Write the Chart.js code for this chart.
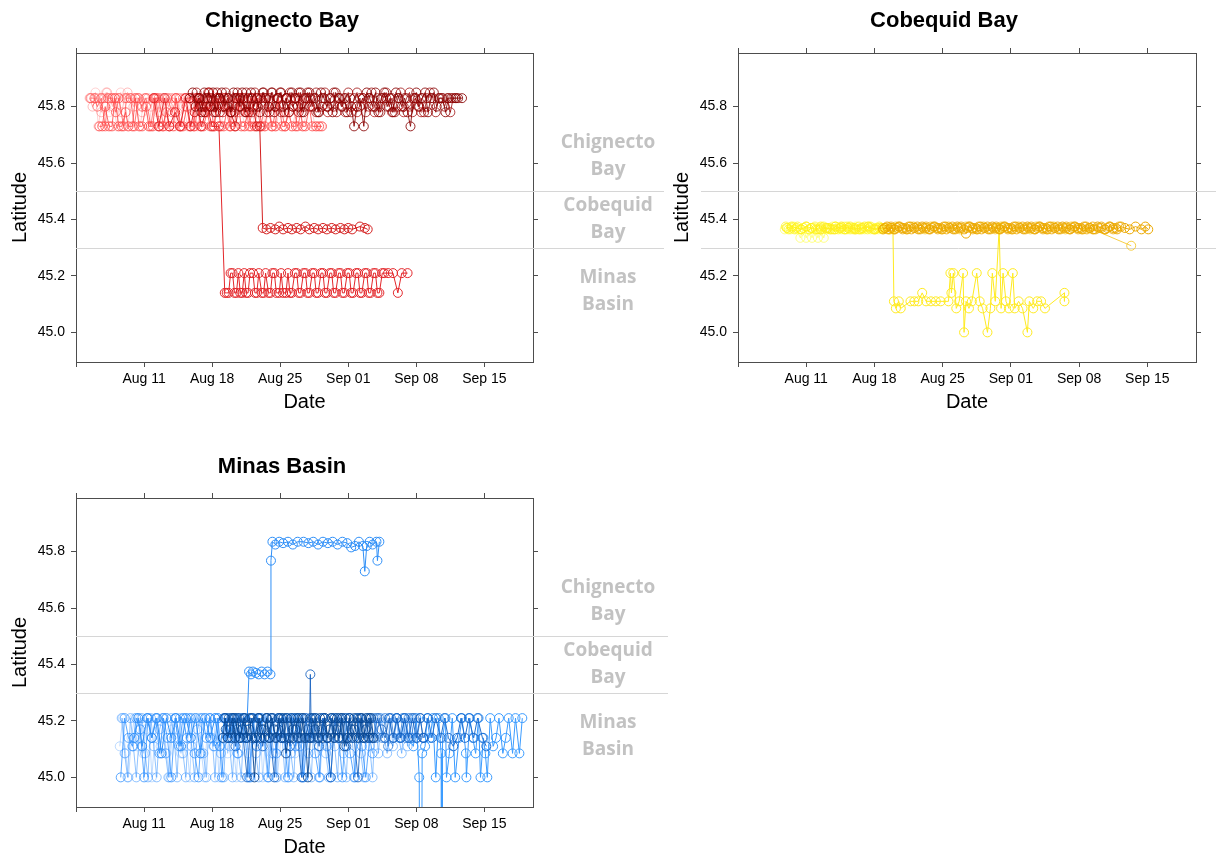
<!DOCTYPE html>
<html>
<head>
<meta charset="utf-8">
<title>Tag detections by latitude</title>
<script src="https://cdn.jsdelivr.net/npm/chart.js@4.4.1/dist/chart.umd.min.js"></script>
<style>
  html, body { margin: 0; padding: 0; background: #fff; width: 1216px; height: 860px; overflow: hidden; }
  canvas { position: absolute; }
  #chigPanel { left: 0; top: 0; }
  #cobePanel { left: 668px; top: 0; }
  #minaPanel { left: 0; top: 445px; }
</style>
</head>
<body>
<canvas id="chigPanel" width="668" height="418"></canvas>
<canvas id="cobePanel" width="548" height="418"></canvas>
<canvas id="minaPanel" width="668" height="418"></canvas>
<script>
// x values are days since Aug 4; y values are receiver latitudes (degrees N)
const xTickDays = [0, 7, 14, 21, 28, 35, 42];
const xTickLabels = ['', 'Aug 11', 'Aug 18', 'Aug 25', 'Sep 01', 'Sep 08', 'Sep 15'];
const yTickValues = [45.0, 45.2, 45.4, 45.6, 45.8];
const regionBreaks = [45.3, 45.5];
const regionNames = [['Chignecto', 'Bay'], ['Cobequid', 'Bay'], ['Minas', 'Basin']];
const regionLabelLat = [45.625, 45.40, 45.148];

// ---- Chignecto Bay release group ----
const chigTagA = [[1.6,45.83],[2.0,45.85],[2.3,45.73],[2.7,45.83],[3.1,45.85],[3.4,45.78],[3.8,45.83],[4.2,45.73],[4.6,45.85],[5.0,45.83],[5.3,45.73],[5.8,45.83],[6.2,45.80],[6.6,45.73],[7.0,45.83],[7.5,45.73],[7.9,45.83],[8.4,45.78],[8.8,45.83],[9.3,45.73],[9.7,45.83],[10.2,45.73],[10.6,45.83],[11.1,45.80],[11.5,45.73],[12.0,45.83],[12.5,45.73],[13.0,45.83],[13.4,45.78],[13.9,45.73],[14.4,45.83],[14.9,45.73],[15.4,45.83],[15.9,45.73],[16.4,45.83],[16.9,45.80],[17.4,45.73],[17.9,45.83],[18.4,45.73],[18.9,45.83],[19.5,45.73],[20.0,45.83],[20.6,45.73],[21.1,45.83],[21.7,45.78],[22.3,45.73],[22.8,45.83],[23.4,45.73],[24.0,45.83],[24.6,45.73],[25.2,45.73]];
const chigTagB = [[1.5,45.83],[1.9,45.83],[2.2,45.80],[2.6,45.83],[3.0,45.73],[3.3,45.83],[3.7,45.83],[4.1,45.78],[4.4,45.83],[4.9,45.73],[5.2,45.83],[5.6,45.83],[6.0,45.73],[6.4,45.83],[6.8,45.80],[7.2,45.83],[7.7,45.73],[8.1,45.83],[8.5,45.83],[9.0,45.73],[9.4,45.83],[9.9,45.78],[10.3,45.83],[10.8,45.73],[11.2,45.83],[11.7,45.83],[12.2,45.73],[12.7,45.83],[13.2,45.80],[13.7,45.83],[14.2,45.73],[14.7,45.83],[15.2,45.83],[15.8,45.73],[16.3,45.83],[16.8,45.78],[17.3,45.83],[17.8,45.73],[18.4,45.83],[19.0,45.73],[19.6,45.83],[20.2,45.73],[20.8,45.83],[21.5,45.73],[22.1,45.83],[22.8,45.73],[23.5,45.83]];
const chigTagG = [[2.4,45.73],[2.7,45.73],[3.0,45.80],[3.4,45.73],[3.7,45.73],[4.0,45.83],[4.4,45.73],[4.7,45.73],[5.1,45.78],[5.4,45.73],[5.8,45.73],[6.1,45.83],[6.5,45.73],[6.8,45.73],[7.2,45.80],[7.5,45.73],[7.9,45.73],[8.2,45.83],[8.6,45.73],[8.9,45.73],[9.3,45.78],[9.6,45.73],[10.0,45.73],[10.3,45.83],[10.7,45.73],[11.0,45.73],[11.4,45.80],[11.7,45.73],[12.1,45.73],[12.4,45.83],[12.8,45.73],[13.1,45.73],[13.5,45.78],[13.8,45.73],[14.2,45.73],[14.5,45.83],[14.9,45.73],[15.2,45.73],[15.6,45.80],[15.9,45.73],[16.3,45.73],[16.6,45.83],[17.0,45.73],[17.3,45.73],[17.7,45.78],[18.0,45.73],[18.4,45.73],[18.7,45.83],[19.1,45.73],[19.4,45.73],[19.8,45.80],[20.1,45.73],[20.5,45.73],[20.8,45.83],[21.2,45.73],[21.5,45.73],[21.9,45.78],[22.2,45.73],[22.6,45.73],[22.9,45.83],[23.3,45.73],[23.6,45.73],[24.0,45.80],[24.3,45.73],[24.7,45.73],[25.0,45.73],[25.3,45.73]];
const chigTagH = [[1.4,45.83],[1.7,45.80],[2.0,45.83],[2.3,45.83],[2.6,45.78],[2.9,45.83],[3.2,45.85],[3.5,45.83],[3.8,45.80],[4.1,45.83],[4.4,45.83],[4.7,45.78],[5.0,45.83],[5.3,45.85],[5.6,45.83],[5.9,45.80],[6.2,45.83],[6.5,45.83],[6.8,45.78],[7.1,45.83],[7.4,45.83],[7.7,45.80],[8.0,45.83],[8.3,45.83],[8.6,45.78],[8.9,45.83],[9.2,45.83],[9.5,45.80],[9.8,45.83],[10.1,45.83],[10.4,45.78],[10.7,45.83],[11.0,45.83],[11.3,45.80],[11.6,45.83],[11.9,45.83],[12.2,45.78],[12.5,45.83]];
const chigTagC = [[8.0,45.83],[8.5,45.73],[9.1,45.83],[9.6,45.73],[10.2,45.78],[10.7,45.73],[11.3,45.83],[11.8,45.73],[12.4,45.83],[12.9,45.73],[13.5,45.80],[14.0,45.73],[14.7,45.73],[15.3,45.14],[15.5,45.14],[15.7,45.14],[15.9,45.21],[16.1,45.21],[16.3,45.14],[16.5,45.14],[16.7,45.21],[16.9,45.14],[17.1,45.14],[17.3,45.21],[17.5,45.14],[17.7,45.14],[17.9,45.21],[18.2,45.21],[18.4,45.14],[18.6,45.14],[18.8,45.21],[19.1,45.14],[19.3,45.14],[19.5,45.21],[19.8,45.14],[20.0,45.14],[20.2,45.21],[20.4,45.21],[20.6,45.14],[20.9,45.14],[21.1,45.21],[21.3,45.14],[21.6,45.14],[21.8,45.21],[22.0,45.14],[22.2,45.14],[22.5,45.21],[22.7,45.21],[22.9,45.14],[23.1,45.14],[23.4,45.21],[23.6,45.21],[23.8,45.14],[24.0,45.14],[24.3,45.21],[24.5,45.21],[24.7,45.14],[24.9,45.14],[25.2,45.21],[25.4,45.21],[25.6,45.14],[25.8,45.14],[26.1,45.21],[26.3,45.21],[26.5,45.14],[26.7,45.14],[27.0,45.21],[27.2,45.21],[27.4,45.14],[27.6,45.14],[27.9,45.21],[28.1,45.21],[28.3,45.14],[28.5,45.14],[28.8,45.21],[29.0,45.21],[29.2,45.14],[29.4,45.14],[29.7,45.21],[29.9,45.21],[30.1,45.14],[30.3,45.14],[30.6,45.21],[30.8,45.21],[31.0,45.14],[31.2,45.14],[31.5,45.21],[31.7,45.21],[32.1,45.21],[32.6,45.21],[33.1,45.14],[33.5,45.21],[34.1,45.21]];
const chigTagD = [[12.2,45.78],[12.7,45.83],[13.2,45.78],[13.7,45.85],[14.2,45.80],[14.8,45.78],[15.3,45.83],[15.9,45.78],[16.4,45.73],[16.9,45.83],[17.5,45.78],[18.0,45.83],[18.6,45.73],[18.9,45.73],[19.2,45.37],[19.6,45.365],[20.0,45.37],[20.5,45.365],[20.9,45.375],[21.3,45.365],[21.8,45.37],[22.2,45.365],[22.7,45.37],[23.1,45.365],[23.6,45.375],[24.0,45.365],[24.5,45.37],[24.9,45.365],[25.4,45.37],[25.8,45.365],[26.3,45.37],[26.7,45.365],[27.2,45.37],[27.6,45.365],[28.0,45.37],[28.4,45.365],[29.2,45.375],[29.7,45.37],[30.0,45.365]];
const chigTagE = [[12.8,45.80],[13.3,45.78],[13.9,45.80],[14.5,45.83],[15.1,45.78],[15.7,45.80],[16.3,45.78],[16.9,45.83],[17.5,45.80],[18.1,45.78],[18.7,45.80],[19.3,45.83],[19.9,45.78],[20.5,45.80],[21.1,45.78],[21.7,45.83],[22.3,45.80],[22.9,45.78],[23.5,45.80],[24.1,45.83],[24.7,45.78],[25.3,45.80],[25.9,45.78],[26.5,45.80],[27.1,45.83],[27.7,45.78],[28.3,45.80],[28.9,45.78],[29.5,45.83],[30.1,45.80],[30.7,45.78],[31.3,45.80],[31.9,45.83],[32.5,45.78],[33.1,45.80],[33.7,45.78],[34.3,45.80],[34.9,45.83],[35.5,45.78],[36.1,45.80]];
const chigTagF = [[11.7,45.83],[12.0,45.85],[12.3,45.80],[12.6,45.83],[12.9,45.78],[13.2,45.85],[13.5,45.83],[13.8,45.80],[14.1,45.85],[14.4,45.78],[14.7,45.83],[15.0,45.85],[15.3,45.80],[15.6,45.83],[15.9,45.78],[16.2,45.85],[16.5,45.83],[16.8,45.80],[17.1,45.85],[17.4,45.78],[17.7,45.83],[18.0,45.85],[18.3,45.80],[18.6,45.83],[18.9,45.78],[19.2,45.85],[19.5,45.83],[19.8,45.80],[20.1,45.85],[20.4,45.78],[20.7,45.83],[21.0,45.85],[21.3,45.80],[21.6,45.83],[21.9,45.78],[22.2,45.85],[22.5,45.83],[22.8,45.80],[23.1,45.85],[23.4,45.78],[23.7,45.83],[24.0,45.85],[24.3,45.80],[24.6,45.83],[24.9,45.78],[25.2,45.85],[25.5,45.83],[25.8,45.80],[26.1,45.83],[26.4,45.78],[26.7,45.85],[27.0,45.83],[27.3,45.80],[27.6,45.83],[27.9,45.78],[28.2,45.83],[28.6,45.73],[28.9,45.80],[29.2,45.83],[29.6,45.73],[29.9,45.85],[30.2,45.83],[30.5,45.80],[30.8,45.85],[31.1,45.78],[31.4,45.83],[31.7,45.85],[32.0,45.80],[32.3,45.83],[32.6,45.78],[32.9,45.85],[33.2,45.83],[33.5,45.80],[33.8,45.83],[34.1,45.78],[34.4,45.73],[34.7,45.83],[35.0,45.85],[35.3,45.80],[35.6,45.83],[35.9,45.85],[36.2,45.78],[36.5,45.83],[36.8,45.85],[37.1,45.80],[37.4,45.83],[37.7,45.83],[38.0,45.78],[38.3,45.83],[38.6,45.83],[39.0,45.83],[39.3,45.83],[39.7,45.83]];
const chigTagI = [[12.4,45.85],[12.7,45.83],[13.0,45.80],[13.3,45.83],[13.6,45.85],[13.9,45.83],[14.2,45.78],[14.5,45.85],[14.8,45.83],[15.1,45.80],[15.4,45.85],[15.7,45.83],[16.0,45.78],[16.3,45.83],[16.6,45.85],[16.9,45.80],[17.2,45.83],[17.5,45.85],[17.8,45.78],[18.1,45.83],[18.4,45.85],[18.7,45.80],[19.0,45.83],[19.3,45.85],[19.6,45.78],[19.9,45.83],[20.2,45.85],[20.5,45.80],[20.8,45.83],[21.1,45.85],[21.4,45.78],[21.7,45.83],[22.0,45.85],[22.3,45.80],[22.6,45.83],[22.9,45.85],[23.2,45.78],[23.5,45.83],[23.8,45.85],[24.1,45.80],[24.4,45.83],[24.7,45.85],[25.0,45.78],[25.3,45.83],[25.6,45.85],[25.9,45.80],[26.2,45.83],[26.5,45.85],[26.8,45.78],[27.1,45.83],[27.4,45.80],[27.7,45.83],[28.0,45.85],[28.3,45.78],[28.6,45.83],[28.9,45.85],[29.2,45.80],[29.5,45.83],[29.8,45.78],[30.1,45.83],[30.4,45.85],[30.7,45.80],[31.0,45.83],[31.3,45.78],[31.6,45.83],[31.9,45.85],[32.2,45.80],[32.5,45.83],[32.8,45.78],[33.1,45.83],[33.4,45.85],[33.7,45.80],[34.0,45.83],[34.3,45.85],[34.6,45.78],[34.9,45.83],[35.2,45.80],[35.5,45.83],[35.8,45.78],[36.1,45.83],[36.4,45.85],[36.7,45.83],[37.0,45.78],[37.3,45.83],[37.6,45.83],[37.9,45.80],[38.2,45.83],[38.5,45.78],[38.8,45.83],[39.1,45.83]];

// ---- Cobequid Bay release group ----
const cobeTagA = [[4.8,45.365],[5.1,45.37],[5.4,45.365],[5.7,45.375],[6.0,45.365],[6.4,45.335],[6.7,45.37],[7.0,45.335],[7.3,45.365],[7.6,45.335],[7.9,45.37],[8.2,45.335],[8.5,45.365],[8.8,45.335],[9.1,45.37],[9.4,45.365],[9.7,45.375],[10.0,45.365],[10.3,45.37],[10.6,45.365],[10.9,45.375],[11.2,45.365],[11.5,45.37],[11.8,45.365],[12.1,45.375],[12.4,45.365],[12.7,45.37],[13.0,45.365],[13.3,45.375],[13.6,45.365],[14.0,45.37],[14.4,45.365],[14.8,45.37]];
const cobeTagB = [[5.0,45.37],[5.5,45.375],[6.0,45.37],[6.5,45.365],[7.0,45.375],[7.5,45.37],[8.0,45.365],[8.5,45.375],[9.0,45.37],[9.5,45.365],[10.0,45.375],[10.5,45.37],[11.0,45.365],[11.5,45.375],[12.0,45.37],[12.5,45.365],[13.0,45.375],[13.5,45.37],[14.0,45.365],[14.5,45.37]];
const cobeTagG = [[4.9,45.375],[5.2,45.365],[5.5,45.37],[5.8,45.365],[6.1,45.375],[6.4,45.365],[6.7,45.37],[7.0,45.375],[7.3,45.365],[7.6,45.37],[7.9,45.375],[8.2,45.365],[8.5,45.37],[8.8,45.375],[9.1,45.365],[9.4,45.37],[9.7,45.365],[10.0,45.375],[10.3,45.365],[10.6,45.37],[10.9,45.365],[11.2,45.375],[11.5,45.365],[11.8,45.37],[12.1,45.365],[12.4,45.375],[12.7,45.365],[13.0,45.37],[13.3,45.365],[13.6,45.375],[13.9,45.365],[14.2,45.37],[14.5,45.375],[14.8,45.365],[15.1,45.37]];
const cobeTagC = [[8.5,45.365],[9.2,45.37],[9.9,45.365],[10.6,45.375],[11.3,45.37],[12.0,45.365],[12.7,45.37],[13.4,45.375],[14.1,45.365],[14.8,45.37],[15.5,45.365],[15.9,45.37],[16.0,45.11],[16.2,45.085],[16.5,45.11],[16.7,45.085],[17.7,45.11],[18.1,45.11],[18.5,45.11],[18.9,45.14],[19.3,45.11],[19.8,45.11],[20.3,45.11],[20.8,45.11],[21.6,45.11],[21.8,45.21],[21.9,45.14],[22.1,45.21],[22.4,45.085],[22.7,45.11],[23.1,45.21],[23.2,45.0],[23.4,45.11],[23.7,45.085],[24.0,45.11],[24.5,45.21],[24.8,45.11],[25.1,45.085],[25.6,45.0],[25.9,45.085],[26.1,45.21],[26.4,45.11],[26.8,45.37],[27.0,45.085],[27.2,45.21],[27.5,45.11],[27.8,45.085],[28.2,45.21],[28.4,45.085],[28.8,45.11],[29.2,45.085],[29.7,45.0],[29.9,45.11],[30.3,45.085],[30.7,45.11],[31.1,45.11],[31.5,45.085],[33.5,45.14],[33.5,45.11]];
const cobeTagD = [[15.0,45.37],[15.6,45.365],[16.2,45.375],[16.8,45.37],[17.4,45.365],[18.0,45.375],[18.6,45.37],[19.2,45.365],[19.8,45.375],[20.4,45.37],[21.0,45.365],[21.6,45.375],[22.2,45.37],[22.8,45.365],[23.4,45.375],[24.0,45.37],[24.6,45.365],[25.2,45.375],[25.8,45.37],[26.4,45.365],[27.0,45.375],[27.6,45.37],[28.2,45.365],[28.8,45.375],[29.4,45.37],[30.0,45.365],[30.6,45.375],[31.2,45.37],[31.8,45.365],[32.4,45.375],[33.0,45.37],[33.6,45.365],[34.2,45.375],[34.8,45.37],[35.4,45.365],[36.0,45.37],[36.4,45.365],[40.35,45.307]];
const cobeTagE = [[14.9,45.365],[15.3,45.375],[15.7,45.37],[16.1,45.365],[16.5,45.375],[16.9,45.37],[17.3,45.365],[17.7,45.375],[18.1,45.37],[18.5,45.365],[18.9,45.375],[19.3,45.37],[19.7,45.365],[20.1,45.375],[20.5,45.37],[20.9,45.365],[21.3,45.375],[21.7,45.37],[22.1,45.365],[22.5,45.375],[22.9,45.37],[23.4,45.35],[23.7,45.375],[24.1,45.37],[24.5,45.365],[24.9,45.375],[25.3,45.37],[25.7,45.365],[26.1,45.375],[26.5,45.37],[26.9,45.365],[27.3,45.375],[27.7,45.37],[28.1,45.365],[28.5,45.375],[28.9,45.37],[29.3,45.365],[29.7,45.375],[30.1,45.37],[30.5,45.365],[30.9,45.375],[31.3,45.37],[31.7,45.365],[32.1,45.375],[32.5,45.37],[32.9,45.365],[33.3,45.375],[33.7,45.37],[34.1,45.365],[34.5,45.375],[34.9,45.37],[35.3,45.365],[35.7,45.375],[36.1,45.37],[36.5,45.365],[36.9,45.375],[37.3,45.37],[37.7,45.365],[38.1,45.375],[38.5,45.37],[38.9,45.365],[39.3,45.375],[39.7,45.37],[40.2,45.365],[40.8,45.375],[41.4,45.365],[41.8,45.375],[42.1,45.365]];
const cobeTagF = [[15.1,45.37],[15.4,45.365],[15.7,45.375],[16.0,45.365],[16.3,45.37],[16.6,45.375],[16.9,45.365],[17.2,45.37],[17.5,45.375],[17.8,45.365],[18.1,45.37],[18.4,45.375],[18.7,45.365],[19.0,45.37],[19.3,45.375],[19.6,45.365],[19.9,45.37],[20.2,45.375],[20.5,45.365],[20.8,45.37],[21.1,45.375],[21.4,45.365],[21.7,45.37],[22.0,45.375],[22.3,45.365],[22.6,45.37],[22.9,45.375],[23.2,45.365],[23.5,45.37],[23.8,45.375],[24.1,45.365],[24.4,45.37],[24.7,45.375],[25.0,45.365],[25.3,45.37],[25.6,45.375],[25.9,45.365],[26.2,45.37],[26.5,45.375],[26.8,45.365],[27.1,45.37],[27.4,45.375],[27.7,45.365],[28.0,45.37],[28.3,45.375],[28.6,45.365],[28.9,45.37],[29.2,45.375],[29.5,45.365],[29.8,45.37],[30.1,45.375],[30.4,45.365],[30.7,45.37],[31.0,45.375],[31.3,45.365],[31.6,45.37],[31.9,45.375],[32.2,45.365],[32.5,45.37],[32.8,45.375],[33.1,45.365],[33.4,45.37],[33.7,45.375],[34.0,45.365],[34.3,45.37],[34.6,45.375],[34.9,45.365],[35.2,45.37],[35.5,45.375],[35.8,45.365],[36.1,45.37],[36.4,45.375],[36.7,45.365],[37.0,45.37],[37.3,45.375],[37.6,45.365],[37.9,45.37],[38.2,45.375],[38.5,45.365],[38.8,45.37],[39.1,45.375]];

// ---- Minas Basin release group ----
const minaTagA = [[4.5,45.11],[4.8,45.21],[5.1,45.085],[5.4,45.0],[5.7,45.14],[6.0,45.21],[6.3,45.11],[6.6,45.21],[6.9,45.085],[7.2,45.17],[7.5,45.21],[7.8,45.0],[8.1,45.14],[8.4,45.21],[8.7,45.11],[9.0,45.21],[9.3,45.085],[9.6,45.0],[9.9,45.17],[10.2,45.21],[10.5,45.14],[10.8,45.085],[11.1,45.21],[11.4,45.11],[11.7,45.0],[12.0,45.21],[12.3,45.14],[12.6,45.21],[12.9,45.085],[13.2,45.0],[13.5,45.17],[13.8,45.21],[14.1,45.11],[14.4,45.21],[14.7,45.0],[15.0,45.14],[15.3,45.21],[15.6,45.085],[15.9,45.21],[16.2,45.11],[16.5,45.0],[16.8,45.21],[17.1,45.14],[17.4,45.21],[17.7,45.085],[18.0,45.0],[18.3,45.21],[18.6,45.11],[18.9,45.21],[19.2,45.0],[19.5,45.14],[19.8,45.21],[20.1,45.085],[20.4,45.21],[20.7,45.0],[21.0,45.11],[21.3,45.21],[21.6,45.14],[21.9,45.0],[22.2,45.21],[22.5,45.085],[22.8,45.21],[23.1,45.11],[23.4,45.0],[23.7,45.21],[24.0,45.14]];
const minaTagB = [[4.6,45.0],[5.0,45.21],[5.4,45.14],[5.8,45.11],[6.2,45.21],[6.6,45.17],[7.0,45.0],[7.4,45.21],[7.8,45.14],[8.2,45.21],[8.6,45.085],[9.0,45.21],[9.4,45.14],[9.8,45.0],[10.2,45.21],[10.6,45.11],[11.0,45.21],[11.4,45.14],[11.8,45.21],[12.2,45.085],[12.6,45.0],[13.0,45.21],[13.4,45.14],[13.8,45.21],[14.2,45.11],[14.6,45.21],[15.0,45.0],[15.4,45.21],[15.8,45.14],[16.2,45.21],[16.6,45.085],[17.0,45.21],[17.4,45.14],[17.8,45.0],[18.2,45.21],[18.6,45.11],[19.0,45.21],[19.4,45.14],[19.8,45.0],[20.2,45.21],[20.6,45.085],[21.0,45.21],[21.4,45.14],[21.8,45.0],[22.2,45.21],[22.6,45.11],[23.0,45.21],[23.4,45.0],[23.8,45.14],[24.2,45.21],[24.6,45.085],[25.0,45.0],[25.4,45.21],[25.8,45.11],[26.2,45.0],[26.6,45.21],[27.0,45.14],[27.4,45.0],[27.8,45.21],[28.2,45.085],[28.6,45.0],[29.0,45.21],[29.4,45.11],[29.8,45.0],[30.2,45.14],[30.5,45.085]];
const minaTagH = [[4.7,45.21],[5.0,45.085],[5.3,45.0],[5.6,45.21],[5.9,45.11],[6.2,45.0],[6.5,45.14],[6.8,45.21],[7.1,45.085],[7.4,45.0],[7.7,45.21],[8.0,45.11],[8.3,45.0],[8.6,45.17],[8.9,45.21],[9.2,45.085],[9.5,45.0],[9.8,45.21],[10.1,45.14],[10.4,45.0],[10.7,45.21],[11.0,45.085],[11.3,45.0],[11.6,45.21],[11.9,45.11],[12.2,45.0],[12.5,45.17],[12.8,45.21],[13.1,45.085],[13.4,45.0],[13.7,45.21],[14.0,45.14],[14.3,45.0],[14.6,45.21],[14.9,45.085],[15.2,45.0],[15.5,45.21],[15.8,45.11],[16.1,45.0],[16.4,45.21],[16.7,45.085],[17.0,45.0],[17.3,45.21],[17.6,45.14],[17.9,45.0],[18.2,45.21],[18.5,45.085],[18.8,45.0],[19.1,45.21],[19.4,45.11],[19.7,45.0],[20.0,45.21],[20.3,45.085],[20.6,45.0],[20.9,45.21],[21.2,45.14],[21.5,45.0],[21.8,45.21],[22.1,45.085],[22.4,45.0],[22.7,45.21],[23.0,45.11],[23.3,45.0],[23.6,45.21],[23.9,45.085],[24.2,45.0],[24.5,45.21],[24.8,45.14],[25.1,45.0],[25.4,45.21],[25.7,45.085],[26.0,45.0],[26.3,45.21],[26.6,45.11],[26.9,45.0],[27.2,45.21],[27.5,45.085],[27.8,45.0],[28.1,45.21],[28.4,45.14],[28.7,45.0],[29.0,45.21],[29.3,45.085],[29.6,45.0],[29.9,45.21],[30.2,45.11],[30.5,45.0],[30.8,45.21],[31.1,45.085],[31.4,45.21],[31.7,45.14],[32.0,45.085],[32.3,45.21],[32.6,45.11],[32.9,45.21],[33.2,45.14],[33.5,45.085],[33.8,45.21],[34.1,45.11],[34.4,45.21],[34.7,45.14]];
const minaTagC = [[6.0,45.14],[6.4,45.21],[6.8,45.11],[7.3,45.21],[7.8,45.14],[8.3,45.21],[8.8,45.085],[9.3,45.21],[9.8,45.14],[10.3,45.21],[10.8,45.11],[11.3,45.21],[11.8,45.14],[12.3,45.21],[12.8,45.085],[13.3,45.21],[13.8,45.14],[14.3,45.21],[14.8,45.11],[15.3,45.21],[15.8,45.14],[16.3,45.21],[16.8,45.14],[17.3,45.21],[17.6,45.20],[17.8,45.375],[18.0,45.365],[18.2,45.375],[18.5,45.37],[18.8,45.365],[19.1,45.375],[19.4,45.365],[19.7,45.375],[20.0,45.365],[20.05,45.768],[20.2,45.835],[20.5,45.825],[20.9,45.835],[21.3,45.83],[21.8,45.835],[22.3,45.825],[22.8,45.835],[23.4,45.835],[23.9,45.83],[24.4,45.835],[24.9,45.825],[25.4,45.835],[25.9,45.83],[26.4,45.835],[26.9,45.825],[27.4,45.835],[27.9,45.83],[28.3,45.815],[28.7,45.82],[29.1,45.835],[29.5,45.82],[29.7,45.73],[29.9,45.82],[30.2,45.835],[30.5,45.825],[30.9,45.835],[31.0,45.768],[31.2,45.835]];
const minaTagD = [[15.1,45.14],[15.35,45.21],[15.6,45.14],[15.85,45.17],[16.1,45.21],[16.35,45.14],[16.6,45.21],[16.85,45.14],[17.1,45.17],[17.35,45.21],[17.6,45.14],[17.85,45.21],[18.1,45.14],[18.35,45.0],[18.6,45.14],[18.85,45.21],[19.1,45.17],[19.35,45.14],[19.6,45.21],[19.85,45.14],[20.1,45.21],[20.35,45.17],[20.6,45.14],[20.85,45.21],[21.1,45.14],[21.35,45.21],[21.6,45.085],[21.85,45.14],[22.1,45.21],[22.35,45.14],[22.6,45.17],[22.85,45.21],[23.1,45.14],[23.35,45.21],[23.6,45.14],[23.85,45.0],[24.1,45.14],[24.35,45.21],[24.6,45.17],[24.85,45.14],[25.1,45.21],[25.35,45.14],[25.6,45.21],[25.85,45.14],[26.1,45.17],[26.35,45.21],[26.6,45.14],[26.85,45.21],[27.1,45.14],[27.35,45.21],[27.6,45.11],[27.85,45.14],[28.1,45.21],[28.35,45.14],[28.6,45.17],[28.85,45.21],[29.1,45.14],[29.35,45.21],[29.6,45.14],[29.85,45.21],[30.1,45.14],[30.35,45.21],[30.6,45.14]];
const minaTagI = [[15.4,45.17],[15.7,45.21],[16.0,45.14],[16.3,45.21],[16.6,45.17],[16.9,45.14],[17.2,45.21],[17.5,45.14],[17.8,45.17],[18.1,45.21],[18.4,45.14],[18.7,45.21],[19.0,45.14],[19.3,45.17],[19.6,45.21],[19.9,45.14],[20.2,45.21],[20.5,45.14],[20.8,45.17],[21.1,45.21],[21.4,45.14],[21.7,45.21],[22.0,45.14],[22.3,45.17],[22.6,45.21],[22.9,45.14],[23.2,45.21],[23.5,45.14],[23.8,45.17],[24.1,45.21],[24.4,45.14],[24.7,45.21],[25.0,45.14],[25.3,45.17],[25.6,45.21],[25.9,45.14],[26.2,45.21],[26.5,45.14],[26.8,45.17],[27.1,45.21],[27.4,45.14],[27.7,45.21],[28.0,45.14],[28.3,45.17],[28.6,45.21],[28.9,45.14],[29.2,45.21],[29.5,45.14],[29.8,45.17],[30.1,45.21],[30.4,45.14]];
const minaTagE = [[15.2,45.21],[15.6,45.14],[16.0,45.21],[16.4,45.11],[16.8,45.21],[17.2,45.14],[17.6,45.0],[18.0,45.21],[18.4,45.14],[18.8,45.21],[19.2,45.11],[19.6,45.21],[20.0,45.14],[20.4,45.0],[20.8,45.21],[21.2,45.14],[21.6,45.21],[22.0,45.11],[22.4,45.21],[22.8,45.14],[23.2,45.0],[23.6,45.21],[24.0,45.14],[24.1,45.365],[24.2,45.14],[24.6,45.21],[25.0,45.11],[25.4,45.21],[25.8,45.14],[26.2,45.0],[26.6,45.21],[27.0,45.14],[27.4,45.21],[27.8,45.11],[28.2,45.21],[28.6,45.14],[29.0,45.0],[29.4,45.21],[29.8,45.14],[30.2,45.21],[30.6,45.14],[31.0,45.21],[31.4,45.17],[31.8,45.14],[32.2,45.21],[32.6,45.14],[33.0,45.21],[33.4,45.14],[33.8,45.21],[34.2,45.14],[34.6,45.21],[35.0,45.14],[35.4,45.21],[35.7,45.14]];
const minaTagJ = [[30.6,45.21],[30.9,45.14],[31.2,45.21],[31.5,45.14],[31.8,45.21],[32.1,45.11],[32.4,45.21],[32.7,45.14],[33.0,45.21],[33.3,45.14],[33.6,45.21],[33.9,45.14],[34.2,45.21],[34.5,45.14],[34.8,45.21],[35.1,45.14],[35.4,45.21],[35.7,45.14]];
const minaTagF = [[33.0,45.21],[33.4,45.14],[33.8,45.21],[34.2,45.14],[34.7,45.11],[35.0,45.21],[35.3,45.0],[35.45,43.5],[35.6,45.085],[35.9,45.11],[36.1,45.21],[36.4,45.14],[36.7,45.21],[37.0,45.0],[37.3,45.21],[37.55,45.085],[37.62,43.5],[37.7,45.14],[38.0,45.21],[38.1,45.0],[38.4,45.085],[38.7,45.21],[39.0,45.0],[39.4,45.14],[39.7,45.21],[40.1,45.085],[40.15,45.0],[40.5,45.21],[40.8,45.14],[41.1,45.085],[41.4,45.21],[41.6,45.0],[41.9,45.14],[42.1,45.085],[42.3,45.0],[42.6,45.21],[42.9,45.11],[43.2,45.14],[43.5,45.21],[43.9,45.085],[44.2,45.14],[44.5,45.21],[44.9,45.085],[45.2,45.21],[45.6,45.085],[45.9,45.21]];
const minaTagG = [[35.8,45.14],[36.2,45.21],[36.6,45.14],[37.0,45.21],[37.5,45.14],[37.9,45.21],[38.3,45.14],[38.8,45.11],[39.2,45.14],[39.6,45.21],[40.0,45.14],[40.4,45.21],[40.9,45.14],[41.3,45.21],[41.8,45.14],[42.2,45.11]];

Chart.defaults.font.family = "'Liberation Sans', Arial, sans-serif";
Chart.defaults.color = '#000';

const AXIS_COLOR = '#4d4d4d';

function track(points, color, order) {
  return {
    data: points.map(([x, y]) => ({ x, y })),
    borderColor: color,
    pointBorderColor: color,
    pointBackgroundColor: 'rgba(0,0,0,0)',
    borderWidth: 1,
    pointBorderWidth: 1,
    pointRadius: 4.5,
    pointHoverRadius: 4.5,
    tension: 0,
    fill: false,
    order: order
  };
}

function gridOpts() {
  return { drawOnChartArea: false, drawTicks: true, tickLength: 5, color: AXIS_COLOR, lineWidth: 1 };
}

function buildScales(leftWidth, yTitlePad) {
  const setX = s => { s.ticks = xTickDays.map(v => ({ value: v })); };
  const setY = s => { s.ticks = yTickValues.map(v => ({ value: v })); };
  const border = { display: true, color: AXIS_COLOR, width: 1 };
  return {
    x: {
      type: 'linear', axis: 'x', position: 'bottom', min: 0, max: 47, bounds: 'data',
      afterBuildTicks: setX,
      afterFit: s => { s.height = 56; },
      grid: gridOpts(), border,
      ticks: {
        autoSkip: false, maxRotation: 0, minRotation: 0, padding: 4,
        font: { size: 14 }, color: '#000',
        callback: v => xTickLabels[xTickDays.indexOf(v)] ?? ''
      },
      title: { display: true, text: 'Date', font: { size: 20 }, color: '#000', padding: { top: 0, bottom: 4 } }
    },
    x2: {
      type: 'linear', axis: 'x', position: 'top', min: 0, max: 47, bounds: 'data',
      afterBuildTicks: setX,
      afterFit: s => { s.height = 7; },
      grid: gridOpts(), border, ticks: { display: false }
    },
    y: {
      type: 'linear', axis: 'y', position: 'left', min: 44.895, max: 45.99, bounds: 'data',
      afterBuildTicks: setY,
      afterFit: s => { s.width = leftWidth; },
      grid: gridOpts(), border,
      ticks: { padding: 6, font: { size: 14 }, color: '#000', callback: v => v.toFixed(1) },
      title: { display: true, text: 'Latitude', font: { size: 20 }, color: '#000', padding: { top: yTitlePad, bottom: 0 } }
    },
    y2: {
      type: 'linear', axis: 'y', position: 'right', min: 44.895, max: 45.99, bounds: 'data',
      afterBuildTicks: setY,
      afterFit: s => { s.width = 7; },
      grid: gridOpts(), border, ticks: { display: false }
    }
  };
}

// Region boundaries, region names and the panel heading
const panelDecor = {
  id: 'panelDecor',
  beforeDatasetsDraw(chart, args, o) {
    const { ctx, scales: { y } } = chart;
    ctx.save();
    ctx.strokeStyle = '#d6d6d6';
    ctx.lineWidth = 1;
    regionBreaks.forEach(v => {
      const py = Math.round(y.getPixelForValue(v)) + 0.5;
      ctx.beginPath();
      ctx.moveTo(o.lineFrom, py);
      ctx.lineTo(o.lineTo, py);
      ctx.stroke();
    });
    ctx.restore();
  },
  afterDraw(chart, args, o) {
    const { ctx, scales: { y } } = chart;
    ctx.save();
    ctx.fillStyle = '#000';
    ctx.font = "bold 22px 'Liberation Sans', Arial, sans-serif";
    ctx.textAlign = 'center';
    ctx.textBaseline = 'alphabetic';
    ctx.fillText(o.title, o.titleX, o.titleY);
    if (o.showRegions) {
      ctx.fillStyle = '#c2c2c2';
      ctx.font = "bold 19px 'Open Sans', 'DejaVu Sans', sans-serif";
      ctx.textBaseline = 'middle';
      regionNames.forEach((lines, i) => {
        const cy = y.getPixelForValue(regionLabelLat[i]);
        ctx.fillText(lines[0], o.regionX, cy - 13.5);
        ctx.fillText(lines[1], o.regionX, cy + 13.5);
      });
    }
    ctx.restore();
  }
};

function makePanel(id, datasets, cfg) {
  return new Chart(document.getElementById(id), {
    type: 'line',
    data: { datasets },
    options: {
      responsive: false,
      animation: false,
      events: [],
      layout: { padding: { left: 0, top: 46, right: cfg.padRight, bottom: 0 } },
      scales: buildScales(cfg.leftWidth, cfg.yTitlePad),
      plugins: {
        legend: { display: false },
        tooltip: { enabled: false },
        panelDecor: cfg.decor
      }
    },
    plugins: [panelDecor]
  });
}

makePanel('chigPanel', [
  track(chigTagF, 'rgba(135,0,0,0.85)', 0),
  track(chigTagI, 'rgba(155,0,0,0.75)', 1),
  track(chigTagE, 'rgba(175,10,10,0.75)', 2),
  track(chigTagD, '#D42020', 3),
  track(chigTagC, '#E3262A', 4),
  track(chigTagG, 'rgba(255,70,70,0.8)', 5),
  track(chigTagB, 'rgba(255,70,70,0.7)', 6),
  track(chigTagH, 'rgba(255,90,90,0.4)', 7),
  track(chigTagA, 'rgba(255,110,110,0.3)', 8)
], {
  padRight: 128, leftWidth: 76, yTitlePad: 8,
  decor: { title: 'Chignecto Bay', titleX: 282, titleY: 27, lineFrom: 76, lineTo: 664, showRegions: true, regionX: 608 }
});

makePanel('cobePanel', [
  track(cobeTagE, '#EBA800', 0),
  track(cobeTagF, 'rgba(236,168,0,0.85)', 1),
  track(cobeTagD, 'rgba(245,195,25,0.8)', 2),
  track(cobeTagC, '#FFEA20', 3),
  track(cobeTagB, 'rgba(255,240,20,0.85)', 4),
  track(cobeTagG, 'rgba(255,245,30,0.75)', 5),
  track(cobeTagA, 'rgba(255,255,60,0.6)', 6)
], {
  padRight: 13, leftWidth: 70, yTitlePad: 2,
  decor: { title: 'Cobequid Bay', titleX: 276, titleY: 27, lineFrom: 33, lineTo: 548, showRegions: false }
});

makePanel('minaPanel', [
  track(minaTagD, 'rgba(8,70,145,0.9)', 0),
  track(minaTagI, 'rgba(10,80,160,0.85)', 1),
  track(minaTagE, 'rgba(20,95,190,0.85)', 2),
  track(minaTagJ, 'rgba(40,120,215,0.8)', 3),
  track(minaTagG, '#1F6FD0', 4),
  track(minaTagC, '#2F8FF7', 5),
  track(minaTagF, '#3A9BFF', 6),
  track(minaTagB, 'rgba(40,140,255,0.75)', 7),
  track(minaTagH, 'rgba(70,155,255,0.6)', 8),
  track(minaTagA, 'rgba(110,175,255,0.45)', 9)
], {
  padRight: 128, leftWidth: 76, yTitlePad: 8,
  decor: { title: 'Minas Basin', titleX: 282, titleY: 28, lineFrom: 76, lineTo: 668, showRegions: true, regionX: 608 }
});
</script>
</body>
</html>
